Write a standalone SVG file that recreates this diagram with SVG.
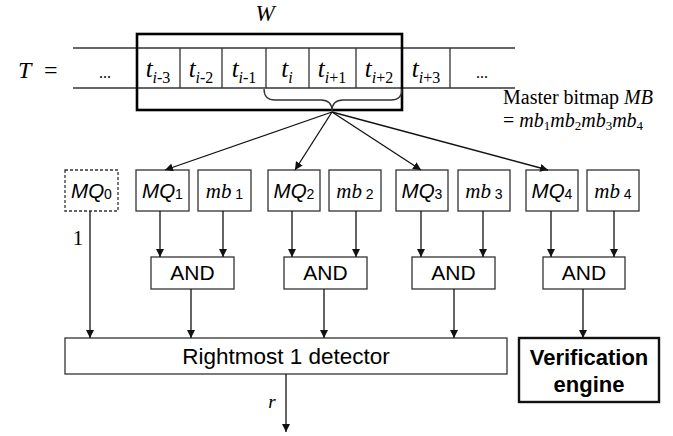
<svg xmlns="http://www.w3.org/2000/svg" width="673" height="436" viewBox="0 0 673 436">
<style>
.ser{font-family:"Liberation Serif","Times New Roman",serif;fill:#000}
.san{font-family:"Liberation Sans",Arial,sans-serif;fill:#000}
.it{font-style:italic}
.box{fill:#fff;stroke:#333;stroke-width:1.3}
.dash{fill:#fff;stroke:#333;stroke-width:1.3;stroke-dasharray:3,2}
.thin{stroke:#333;stroke-width:1.3;fill:none}
.con{stroke:#111;stroke-width:1.3;fill:none;marker-end:url(#ah)}
.cell{font-size:25px}
.sub{font-size:16px}
</style>
<defs>
<marker id="ah" viewBox="0 0 10 10" refX="10" refY="5" markerWidth="8" markerHeight="8" markerUnits="userSpaceOnUse" orient="auto">
<path d="M0,0 L10,5 L0,10 z" fill="#111"/>
</marker>
</defs>
<rect width="673" height="436" fill="#fff"/>

<g id="text-row">
<text class="ser it" x="18" y="78" font-size="24">T</text>
<text class="ser" x="44" y="78" font-size="24">=</text>
<line class="thin" x1="73" y1="48" x2="515" y2="48"/>
<line class="thin" x1="73" y1="88" x2="515" y2="88"/>
<line class="thin" x1="180" y1="48" x2="180" y2="88"/>
<line class="thin" x1="222" y1="48" x2="222" y2="88"/>
<line class="thin" x1="266" y1="48" x2="266" y2="88"/>
<line class="thin" x1="309" y1="48" x2="309" y2="88"/>
<line class="thin" x1="356" y1="48" x2="356" y2="88"/>
<line class="thin" x1="450" y1="48" x2="450" y2="88"/>
<text class="ser" x="105" y="78" font-size="16" text-anchor="middle">...</text>
<text class="ser" x="482" y="78" font-size="16" text-anchor="middle">...</text>
<text class="ser cell" x="158" y="77" text-anchor="middle"><tspan class="it">t</tspan><tspan class="sub" dy="6"><tspan class="it">i</tspan>-3</tspan></text>
<text class="ser cell" x="201" y="77" text-anchor="middle"><tspan class="it">t</tspan><tspan class="sub" dy="6"><tspan class="it">i</tspan>-2</tspan></text>
<text class="ser cell" x="244" y="77" text-anchor="middle"><tspan class="it">t</tspan><tspan class="sub" dy="6"><tspan class="it">i</tspan>-1</tspan></text>
<text class="ser cell" x="287" y="77" text-anchor="middle"><tspan class="it">t</tspan><tspan class="sub" dy="6"><tspan class="it">i</tspan></tspan></text>
<text class="ser cell" x="332" y="77" text-anchor="middle"><tspan class="it">t</tspan><tspan class="sub" dy="6"><tspan class="it">i</tspan>+1</tspan></text>
<text class="ser cell" x="379" y="77" text-anchor="middle"><tspan class="it">t</tspan><tspan class="sub" dy="6"><tspan class="it">i</tspan>+2</tspan></text>
<text class="ser cell" x="426" y="77" text-anchor="middle"><tspan class="it">t</tspan><tspan class="sub" dy="6"><tspan class="it">i</tspan>+3</tspan></text>
</g>

<g id="window">
<rect x="137" y="34" width="265" height="76" fill="none" stroke="#000" stroke-width="2.6"/>
<text class="ser it" x="265" y="21" font-size="23" text-anchor="middle">W</text>
<path class="thin" d="M264,89 Q264,100 275,100 L321,100 Q332,100 332,111 Q332,100 343,100 L391,100 Q402,100 402,89" stroke="#111"/>
</g>

<g id="master-bitmap">
<text class="ser" x="503" y="104" font-size="20">Master bitmap <tspan class="it">MB</tspan></text>
<text class="ser" x="503" y="127" font-size="20">= <tspan class="it">mb</tspan><tspan font-size="13" dy="3">1</tspan><tspan class="it" dy="-3">mb</tspan><tspan font-size="13" dy="3">2</tspan><tspan class="it" dy="-3">mb</tspan><tspan font-size="13" dy="3">3</tspan><tspan class="it" dy="-3">mb</tspan><tspan font-size="13" dy="3">4</tspan></text>
</g>

<g id="MQ0">
<rect class="dash" x="65" y="170" width="53" height="41"/>
<text class="san" x="91.5" y="198" font-size="20.5" text-anchor="middle"><tspan class="it">MQ</tspan><tspan font-size="14" dy="1">0</tspan></text>
</g>
<g id="MQ1">
<rect class="box" x="136" y="170" width="53" height="41"/>
<text class="san" x="162.5" y="198" font-size="20.5" text-anchor="middle"><tspan class="it">MQ</tspan><tspan font-size="14" dy="1">1</tspan></text>
</g>
<g id="mb1">
<rect class="box" x="198" y="170" width="53" height="41"/>
<text x="224.5" y="198" font-size="21" text-anchor="middle"><tspan class="ser it">mb</tspan><tspan class="san" font-size="14" dy="1"> 1</tspan></text>
</g>
<g id="MQ2">
<rect class="box" x="268" y="170" width="52" height="41"/>
<text class="san" x="294" y="198" font-size="20.5" text-anchor="middle"><tspan class="it">MQ</tspan><tspan font-size="14" dy="1">2</tspan></text>
</g>
<g id="mb2">
<rect class="box" x="329" y="170" width="52" height="41"/>
<text x="355" y="198" font-size="21" text-anchor="middle"><tspan class="ser it">mb</tspan><tspan class="san" font-size="14" dy="1"> 2</tspan></text>
</g>
<g id="MQ3">
<rect class="box" x="396" y="170" width="52" height="41"/>
<text class="san" x="422" y="198" font-size="20.5" text-anchor="middle"><tspan class="it">MQ</tspan><tspan font-size="14" dy="1">3</tspan></text>
</g>
<g id="mb3">
<rect class="box" x="458" y="170" width="52" height="41"/>
<text x="484" y="198" font-size="21" text-anchor="middle"><tspan class="ser it">mb</tspan><tspan class="san" font-size="14" dy="1"> 3</tspan></text>
</g>
<g id="MQ4">
<rect class="box" x="526" y="170" width="52" height="41"/>
<text class="san" x="552" y="198" font-size="20.5" text-anchor="middle"><tspan class="it">MQ</tspan><tspan font-size="14" dy="1">4</tspan></text>
</g>
<g id="mb4">
<rect class="box" x="587" y="170" width="52" height="41"/>
<text x="613" y="198" font-size="21" text-anchor="middle"><tspan class="ser it">mb</tspan><tspan class="san" font-size="14" dy="1"> 4</tspan></text>
</g>

<g id="AND1">
<rect class="box" x="151" y="257" width="83" height="32"/>
<text class="san" x="192.5" y="280" font-size="21" text-anchor="middle">AND</text>
</g>
<g id="AND2">
<rect class="box" x="284" y="257" width="83" height="32"/>
<text class="san" x="325.5" y="280" font-size="21" text-anchor="middle">AND</text>
</g>
<g id="AND3">
<rect class="box" x="412" y="257" width="83" height="32"/>
<text class="san" x="453.5" y="280" font-size="21" text-anchor="middle">AND</text>
</g>
<g id="AND4">
<rect class="box" x="543" y="257" width="82" height="32"/>
<text class="san" x="584" y="280" font-size="21" text-anchor="middle">AND</text>
</g>

<g id="detector">
<rect class="box" x="65" y="338" width="442" height="36"/>
<text class="san" x="286" y="364" font-size="22.5" text-anchor="middle">Rightmost 1 detector</text>
</g>
<g id="verification">
<rect x="519" y="338" width="140" height="64" fill="#fff" stroke="#111" stroke-width="2.4"/>
<text class="san" x="589" y="365" font-size="22" font-weight="bold" text-anchor="middle">Verification</text>
<text class="san" x="589" y="392" font-size="22" font-weight="bold" text-anchor="middle">engine</text>
</g>

<g id="connectors">
<line class="con" x1="332" y1="112" x2="165" y2="170"/>
<line class="con" x1="332" y1="112" x2="295" y2="170"/>
<line class="con" x1="332" y1="112" x2="421" y2="170"/>
<line class="con" x1="332" y1="112" x2="548" y2="170"/>
<line class="con" x1="90" y1="211" x2="90" y2="338"/>
<line class="con" x1="160" y1="211" x2="160" y2="257"/>
<line class="con" x1="223" y1="211" x2="223" y2="257"/>
<line class="con" x1="292" y1="211" x2="292" y2="257"/>
<line class="con" x1="356" y1="211" x2="356" y2="257"/>
<line class="con" x1="421" y1="211" x2="421" y2="257"/>
<line class="con" x1="483" y1="211" x2="483" y2="257"/>
<line class="con" x1="551" y1="211" x2="551" y2="257"/>
<line class="con" x1="614" y1="211" x2="614" y2="257"/>
<line class="con" x1="191" y1="289" x2="191" y2="338"/>
<line class="con" x1="324" y1="289" x2="324" y2="338"/>
<line class="con" x1="454" y1="289" x2="454" y2="338"/>
<line class="con" x1="583" y1="289" x2="583" y2="338"/>
<line class="con" x1="286" y1="374" x2="286" y2="432" stroke-width="1.8"/>
<text class="ser" x="78" y="245" font-size="21" text-anchor="middle">1</text>
<text class="ser it" x="272" y="408" font-size="19" text-anchor="middle">r</text>
</g>
</svg>
